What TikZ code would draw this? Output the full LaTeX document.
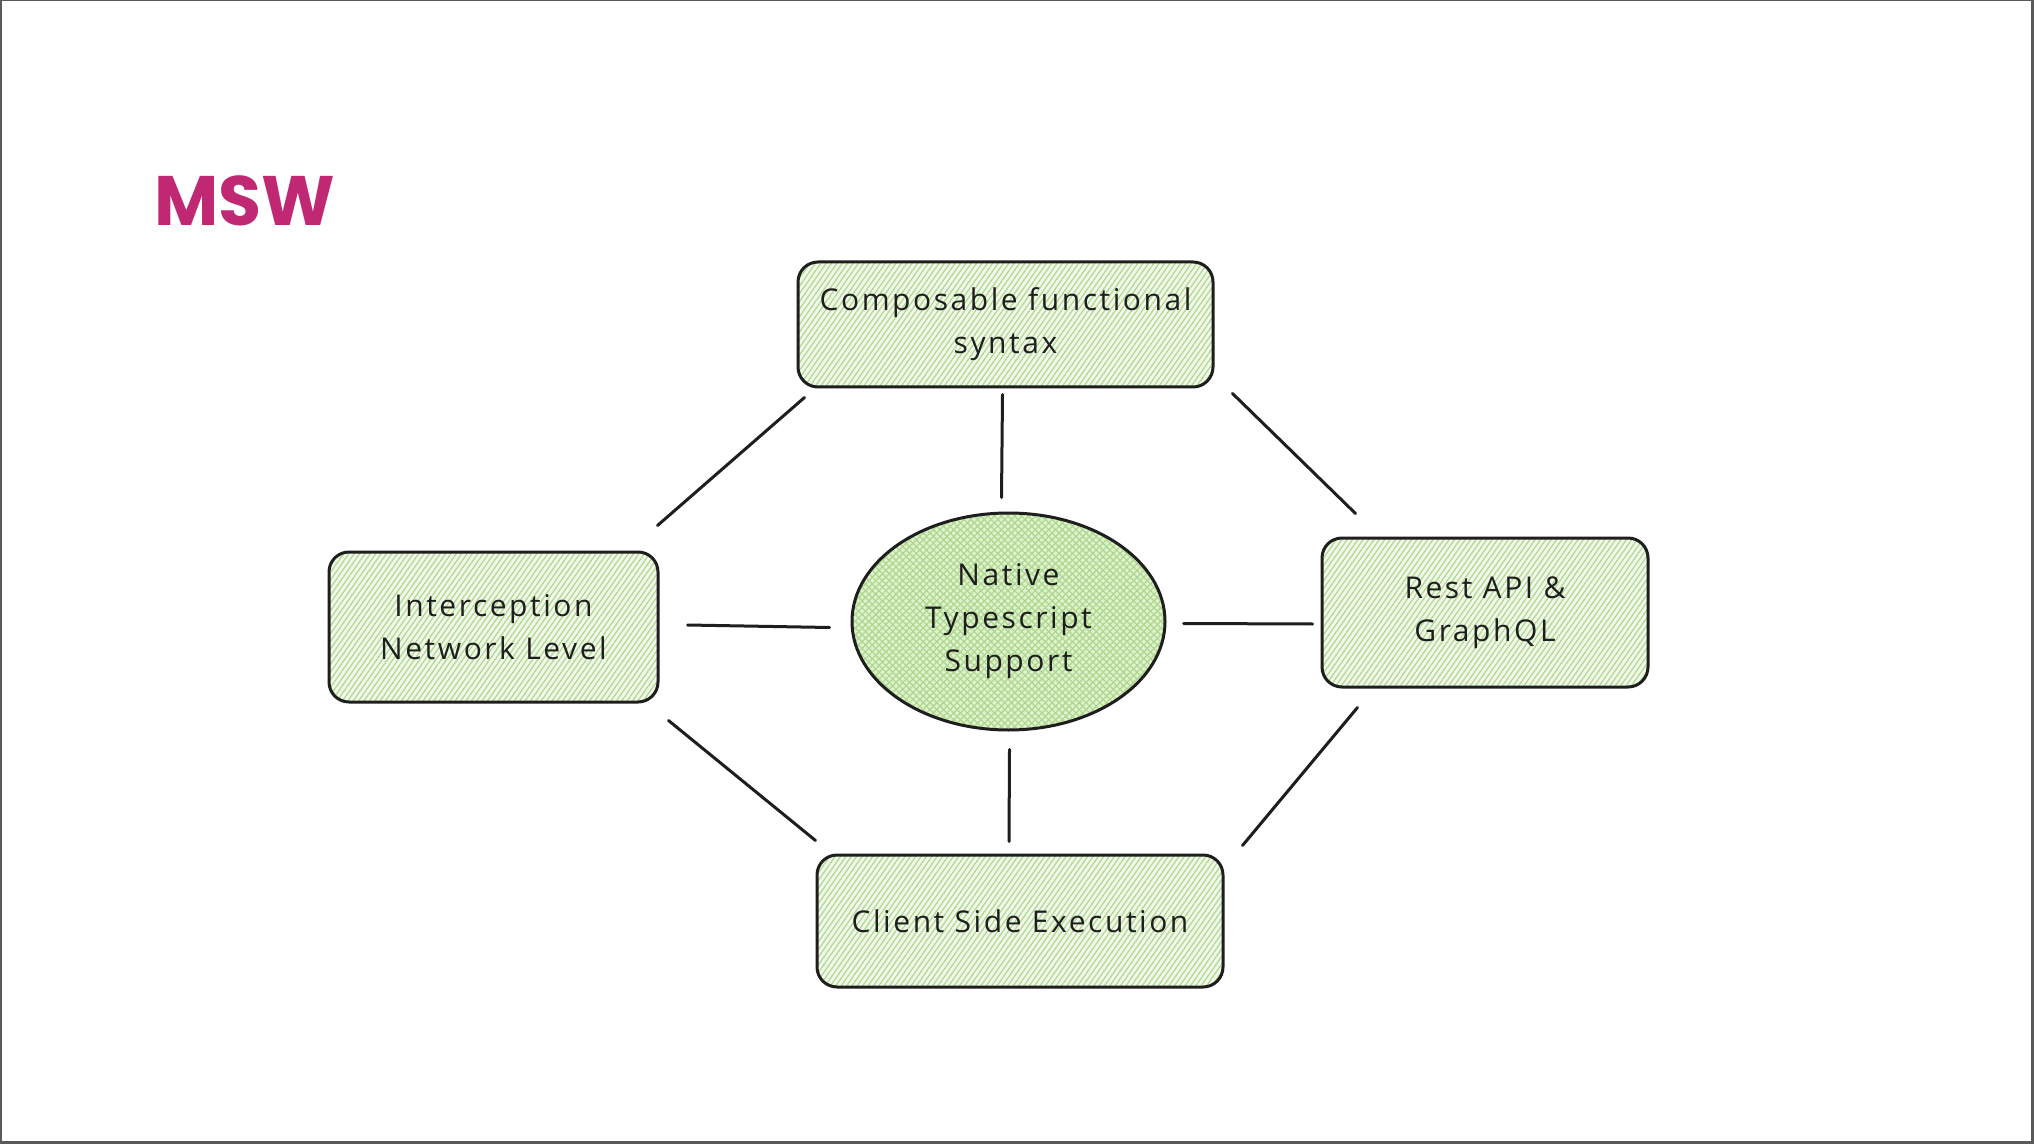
\documentclass[tikz,border=0pt]{standalone}
\usepackage{fontspec}
\setmainfont{Open Sans}
\newfontfamily\titlefont{Poppins}
\usetikzlibrary{calc,patterns.meta,shapes.geometric}
\definecolor{ink}{RGB}{30,30,30}
\definecolor{mswc}{RGB}{192,40,115}
\definecolor{hatch}{RGB}{172,216,140}
\definecolor{boxbg}{RGB}{242,249,235}
\definecolor{ellbg}{RGB}{224,241,207}
\definecolor{framec}{RGB}{90,90,90}
\begin{document}
\begin{tikzpicture}[x=0.5pt,y=-0.5pt,
  txt/.style={align=center, text=ink, font=\fontsize{15}{21.5}\selectfont\addfontfeature{LetterSpace=8.5}},
  card/.style={txt, draw=ink, line width=1.5pt, rounded corners=10pt, inner sep=0pt,
    preaction={fill=boxbg},
    preaction={draw=none, pattern={Lines[angle=55,distance=2.2pt,line width=0.6pt]}, pattern color=hatch}},
  oval/.style={txt, ellipse, draw=ink, line width=1.5pt, inner sep=0pt,
    preaction={fill=ellbg},
    preaction={draw=none, pattern={Lines[angle=45,distance=2.4pt,line width=0.6pt]}, pattern color=hatch},
    preaction={draw=none, pattern={Lines[angle=-45,distance=2.4pt,line width=0.6pt]}, pattern color=hatch}},
  link/.style={draw=ink, line width=1.5pt, line cap=round}]
\useasboundingbox (0,0) rectangle (2034,1144);
\fill[white] (0,0) rectangle (2034,1144);
\draw[framec, line width=1.5pt] (0,0) rectangle (2034,1144);
\draw[framec, line width=3pt] (2034,0) -- (2034,1144) -- (0,1144);

\node[text=mswc, font=\titlefont\bfseries\fontsize{35}{40}\selectfont, anchor=center] (title) at (245,201) {MSW};

\node[card, minimum width=207.5pt, minimum height=62.5pt] (top) at (1005.5,324.5) {Composable functional\\syntax};
\node[card, minimum width=164.5pt, minimum height=75pt] (left) at (493.5,627) {Interception\\Network Level};
\node[card, minimum width=163pt, minimum height=74.5pt] (right) at (1485,612.5) {Rest API \&\\GraphQL};
\node[card, minimum width=203pt, minimum height=66pt] (bottom) at (1020,921) {Client Side Execution};
\node[oval, minimum width=156.5pt, minimum height=108.5pt] (core) at (1008.5,621.5) {\rule{0pt}{5pt}Native\\Typescript\\Support};

\draw[link] ($(top.south west)+(8,9)$) -- ($(left.north east)+(-2,-25)$);
\draw[link] ($(top.south)+(-3,6)$) -- ($(core.north)+(-7,-14)$);
\draw[link] ($(top.south east)+(18,5)$) -- ($(right.north west)+(35,-23)$);
\draw[link] ($(left.east)+(28,-2)$) -- ($(core.west)+(-21,6)$);
\draw[link] ($(core.east)+(17,2)$) -- ($(right.west)+(-8,11.5)$);
\draw[link] ($(left.south east)+(9,17)$) -- ($(bottom.north west)+(0,-13)$);
\draw[link] ($(core.south)+(1,18)$) -- ($(bottom.north)+(-11,-12)$);
\draw[link] ($(right.south west)+(37,19)$) -- ($(bottom.north east)+(18,-8)$);
\end{tikzpicture}
\end{document}
